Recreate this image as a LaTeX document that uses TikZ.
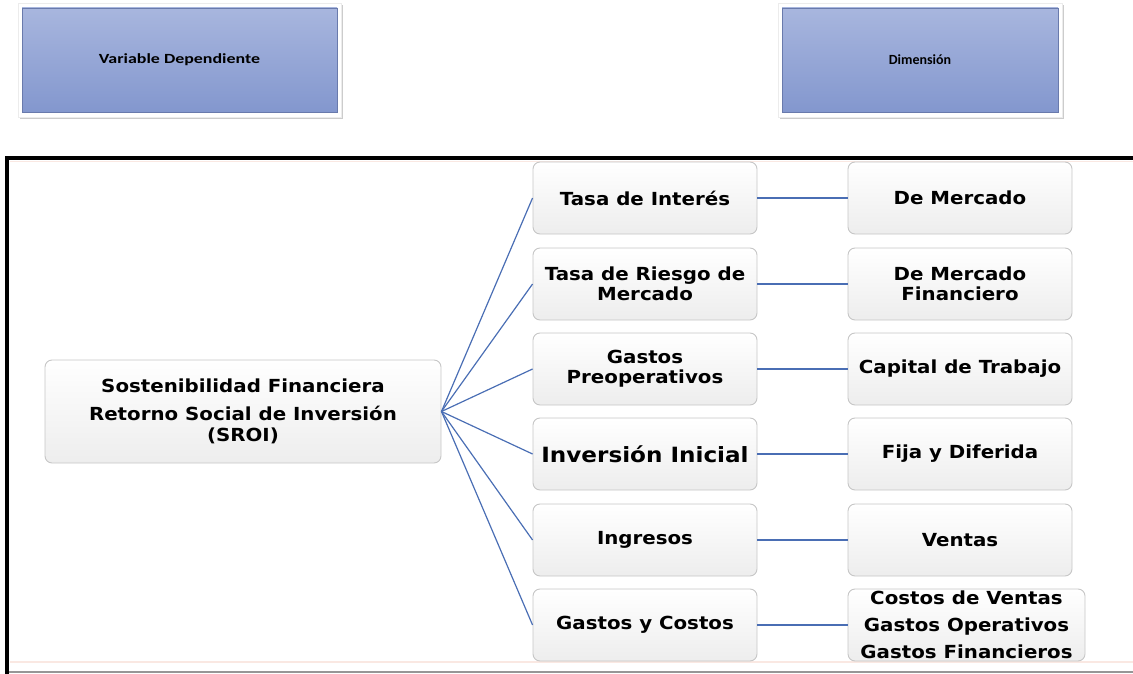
\documentclass[tikz,border=0pt]{standalone}
\usepackage{fontspec}
\usetikzlibrary{shadows}
\newfontfamily\dvfont{DejaVu Sans}[FakeStretch=1.1]
\newfontfamily\calfont{Carlito}
\definecolor{linkblue}{RGB}{74,110,180}
\definecolor{tileTop}{RGB}{168,182,222}
\definecolor{tileBot}{RGB}{131,151,206}
\definecolor{tileEdge}{RGB}{105,122,172}
\definecolor{rule}{RGB}{150,150,150}
\definecolor{blush}{RGB}{250,232,226}
\tikzset{
  tileframe/.style={rectangle, fill=white, draw=gray!15,
    drop shadow={shadow xshift=1.5pt, shadow yshift=-2.5pt, opacity=0.4}},
  tile/.style={rectangle, top color=tileTop, bottom color=tileBot, draw=tileEdge,
    line width=0.8pt, font=\calfont\bfseries, text=black},
  box/.style={rectangle, rounded corners=7pt, draw=gray!45, line width=0.9pt,
    top color=white, bottom color=gray!14, minimum width=224pt, minimum height=72pt,
    align=center, text=black, inner sep=1pt},
  midtext/.style={font=\dvfont\bfseries\fontsize{18}{20}\selectfont},
  link/.style={draw=linkblue, line width=1.2pt},
}
\begin{document}
\begin{tikzpicture}[x=1pt,y=-1pt]
\useasboundingbox (0,0) rectangle (1133,674);

% header tiles
\node[tileframe, minimum width=323pt, minimum height=114pt] (vdf) at (179.5,60) {};
\node[tile, minimum width=315pt, minimum height=104pt] (vd) at (179.5,60)
  {\fontsize{14}{16}\selectfont\scalebox{1.28}[1]{Variable Dependiente}};
\node[tileframe, minimum width=284pt, minimum height=114pt] (dmf) at (920,60) {};
\node[tile, minimum width=276pt, minimum height=104pt] (dm) at (920,60)
  {\fontsize{14}{16}\selectfont Dimensión};

% surrounding frame
\draw[blush, line width=1pt] (10,161.5) -- (1133,161.5);
\draw[blush, line width=1.2pt] (10,662) -- (1133,662);
\draw[rule, line width=2pt] (9,672) -- (1133,672);
\draw[black, line width=4pt] (1133,158) -- (7,158) -- (7,674);

% root
\node[box, minimum width=396pt, minimum height=103pt,
  font=\dvfont\bfseries\fontsize{18}{21}\selectfont] (root) at (243,411.5)
  {Sostenibilidad Financiera\\[7pt]Retorno Social de Inversión\\(SROI)};

% middle column
\node[box, midtext] (m1) at (645,198) {Tasa de Interés};
\node[box, midtext] (m2) at (645,284) {Tasa de Riesgo de\\Mercado};
\node[box, midtext] (m3) at (645,369) {Gastos\\Preoperativos};
\node[box, font=\dvfont\bfseries\fontsize{21}{24}\selectfont] (m4) at (645,454) {Inversión Inicial};
\node[box, midtext] (m5) at (645,540) {Ingresos};
\node[box, midtext] (m6) at (645,625) {Gastos y Costos};

% right column
\node[box, midtext] (r1) at (960,198) {De Mercado};
\node[box, midtext] (r2) at (960,284) {De Mercado\\Financiero};
\node[box, midtext] (r3) at (960,369) {Capital de Trabajo};
\node[box, midtext] (r4) at (960,454) {Fija y Diferida};
\node[box, midtext] (r5) at (960,540) {Ventas};
\node[box, minimum width=237pt, font=\dvfont\bfseries\fontsize{18}{27}\selectfont] (r6) at (966.5,625)
  {Costos de Ventas\\Gastos Operativos\\Gastos Financieros};

% connectors
\foreach \i in {1,...,6} {
  \draw[link] (root.east) -- (m\i.west);
  \draw[link] (m\i.east) -- (r\i.west);
}
\end{tikzpicture}
\end{document}
